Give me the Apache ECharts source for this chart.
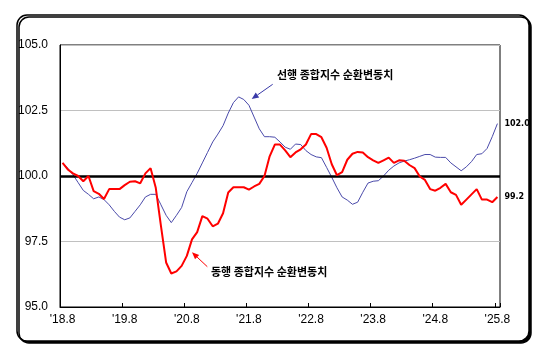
<!DOCTYPE html>
<html>
<head>
<meta charset="utf-8">
<script src="https://cdn.jsdelivr.net/npm/echarts@6/dist/echarts.min.js"></script>
<style>
  html, body { margin: 0; padding: 0; background: #fff; }
  #chart { width: 555px; height: 354px; }
</style>
</head>
<body>
<div id="chart"></div>
<script>
// 월 구분 ('18.8 ~ '25.8)
var categories = [];
for (var y = 2018, m = 8; y < 2025 || (y === 2025 && m <= 8); m++) {
  if (m > 12) { m = 1; y++; }
  categories.push("'" + String(y).slice(2) + '.' + m);
}

// 선행종합지수 순환변동치
var leadingValues = [
  100.5, 100.3, 100.05, 99.75, 99.45, 99.3, 99.13, 99.2, 99.1, 98.9,
  98.65, 98.43, 98.33, 98.4, 98.65, 98.9, 99.2, 99.3, 99.3, 98.9,
  98.5, 98.22, 98.5, 98.8, 99.4, 99.75, 100.1, 100.5, 100.9, 101.3,
  101.6, 101.92, 102.4, 102.8, 103.02, 102.92, 102.7, 102.25, 101.8, 101.5,
  101.5, 101.48, 101.3, 101.1, 101.02, 101.22, 101.2, 100.97, 100.82, 100.73,
  100.7, 100.33, 99.95, 99.55, 99.2, 99.08, 98.92, 99.0, 99.38, 99.73,
  99.8, 99.82, 100.0, 100.22, 100.38, 100.5, 100.57, 100.62, 100.68, 100.75,
  100.82, 100.82, 100.72, 100.71, 100.71, 100.5, 100.35, 100.2, 100.35, 100.55,
  100.82, 100.85, 101.05, 101.5, 102.0
];

// 동행종합지수 순환변동치
var coincidentValues = [
  100.5, 100.25, 100.1, 100.0, 99.8, 100.0, 99.42, 99.32, 99.12, 99.5,
  99.5, 99.5, 99.65, 99.78, 99.8, 99.72, 100.1, 100.3, 99.55, 98.1,
  96.7, 96.28, 96.36, 96.57, 96.95, 97.58, 97.86, 98.47, 98.37, 98.08,
  98.18, 98.58, 99.37, 99.57, 99.57, 99.57, 99.48, 99.6, 99.7, 100.0,
  100.75, 101.2, 101.2, 100.98, 100.72, 100.9, 101.02, 101.2, 101.6, 101.6,
  101.48, 101.08, 100.45, 100.03, 100.15, 100.62, 100.85, 100.92, 100.9, 100.72,
  100.6, 100.5, 100.6, 100.7, 100.5, 100.6, 100.58, 100.42, 100.3, 99.98,
  99.85, 99.5, 99.44, 99.55, 99.7, 99.38, 99.28, 98.9, 99.1, 99.3,
  99.5, 99.1, 99.1, 99.0, 99.2
];

var yMin = 95, yMax = 105, yStep = 2.5;

// 화살표 (선 + 삼각형 머리)
function arrow(x1, y1, x2, y2, color) {
  var dx = x2 - x1, dy = y2 - y1;
  var len = Math.sqrt(dx * dx + dy * dy);
  var ux = dx / len, uy = dy / len;
  var bx = x2 - ux * 7, by = y2 - uy * 7;
  return [
    { type: 'line', z: 100, shape: { x1: x1, y1: y1, x2: bx, y2: by }, style: { stroke: color, lineWidth: 1 } },
    { type: 'polygon', z: 100, shape: { points: [[x2, y2], [bx - uy * 3, by + ux * 3], [bx + uy * 3, by - ux * 3]] }, style: { fill: color } }
  ];
}

var labelFont = 'Noto Sans CJK KR';

var chart = echarts.init(document.getElementById('chart'));
chart.setOption({
  animation: false,
  backgroundColor: '#fff',
  graphic: [
    // 바깥 테두리
    {
      type: 'rect', z: -10,
      shape: { x: 17, y: 15, width: 512, height: 326, r: 10 },
      style: { fill: '#fff', stroke: '#000', lineWidth: 1.5, shadowColor: '#000', shadowOffsetX: 2, shadowOffsetY: 2, shadowBlur: 0 }
    },
    {
      type: 'text', z: 100, left: 277, top: 69,
      style: { text: '선행 종합지수 순환변동치', fill: '#000', font: 'bold 11px "' + labelFont + '"' }
    },
    {
      type: 'text', z: 100, left: 211, top: 266,
      style: { text: '동행 종합지수 순환변동치', fill: '#000', font: 'bold 11px "' + labelFont + '"' }
    }
  ].concat(arrow(272.7, 84.3, 251.7, 99, '#3a3aa8'))
   .concat(arrow(207.3, 266.7, 192, 252.3, '#ff0000')),
  grid: {
    left: 60, right: 55, top: 45, bottom: 47,
    show: true, borderColor: '#000', borderWidth: 1, backgroundColor: 'transparent'
  },
  xAxis: {
    type: 'category',
    data: categories,
    boundaryGap: true,
    axisLine: { lineStyle: { color: '#000', width: 1 } },
    axisTick: { show: true, inside: true, length: 4, interval: 11, lineStyle: { color: '#000' } },
    axisLabel: { interval: 11, color: '#000', fontSize: 12, fontFamily: 'Liberation Sans', margin: 7 },
    splitLine: { show: false }
  },
  yAxis: {
    type: 'value',
    min: yMin, max: yMax, interval: yStep,
    axisLine: { show: true, lineStyle: { color: '#000', width: 1 } },
    axisTick: { show: false },
    axisLabel: {
      color: '#000', fontSize: 12, fontFamily: 'Liberation Sans', margin: 12,
      formatter: function (v) { return v.toFixed(1); }
    },
    splitLine: { show: true, lineStyle: { color: '#c0c0c0', width: 1 } }
  },
  series: [
    {
      name: '선행종합지수 순환변동치',
      type: 'line',
      data: leadingValues,
      symbol: 'none',
      lineStyle: { color: '#4a4aaa', width: 1 },
      itemStyle: { color: '#4a4aaa' },
      z: 4,
      endLabel: {
        show: true, distance: 7, color: '#000', fontSize: 8, fontWeight: 'bold', fontFamily: 'DejaVu Sans',
        formatter: function (p) { return p.value.toFixed(1); }
      },
      markLine: {
        silent: true, symbol: 'none', label: { show: false },
        lineStyle: { color: '#000', width: 2.5, type: 'solid' },
        data: [{ yAxis: 100 }]
      }
    },
    {
      name: '동행종합지수 순환변동치',
      type: 'line',
      data: coincidentValues,
      symbol: 'none',
      lineStyle: { color: '#ff0000', width: 2 },
      itemStyle: { color: '#ff0000' },
      z: 5,
      endLabel: {
        show: true, distance: 7, color: '#000', fontSize: 8, fontWeight: 'bold', fontFamily: 'DejaVu Sans',
        formatter: function (p) { return p.value.toFixed(1); }
      }
    }
  ]
});
</script>
</body>
</html>
